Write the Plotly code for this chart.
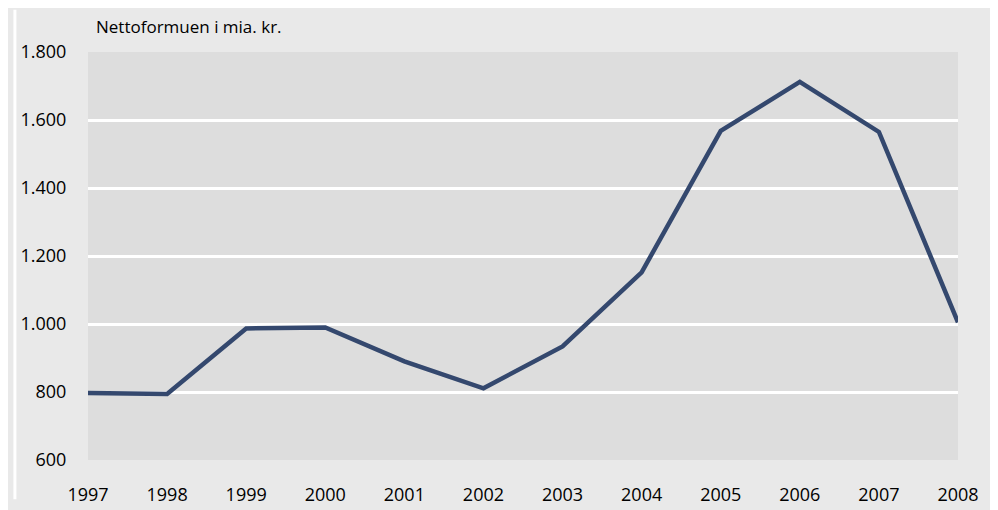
import plotly.graph_objects as go

years = [1997, 1998, 1999, 2000, 2001, 2002, 2003, 2004, 2005, 2006, 2007, 2008]
nettoformue = [797, 794, 987, 990, 890, 811, 934, 1152, 1568, 1712, 1565, 1005]
y_title = "Nettoformuen i mia. kr."

W, H = 998, 510
L, R, T, B = 75, 48, 44, 41
pw, ph = W - L - R, H - T - B

def px_x(p):
    return (p - L) / pw

def px_y(q):
    return (H - B - q) / ph

fig = go.Figure()
fig.add_trace(go.Scatter(
    x=years, y=nettoformue, mode="lines",
    line=dict(color="#34486e", width=4.5),
    hoverinfo="x+y",
))

fig.update_layout(
    width=W, height=H,
    margin=dict(l=L, r=R, t=T, b=B),
    paper_bgcolor="#e9e9e9",
    plot_bgcolor="#dddddd",
    separators=",.",
    showlegend=False,
    font=dict(family="Open Sans", size=18, color="#000000"),
    xaxis=dict(
        range=[1997, 2008], tickmode="array", tickvals=years,
        ticktext=[str(y) for y in years],
        showgrid=False, zeroline=False, showline=False,
        ticks="outside", ticklen=18, tickcolor="rgba(0,0,0,0)",
        tickfont=dict(size=18),
    ),
    yaxis=dict(
        range=[600, 1800], dtick=200, tick0=600, tickformat=",d",
        showgrid=True, gridcolor="#ffffff", gridwidth=2.5,
        zeroline=False, showline=False,
        ticks="outside", ticklen=17, tickcolor="rgba(0,0,0,0)",
        tickfont=dict(size=18),
    ),
    annotations=[dict(
        text=y_title, xref="paper", yref="paper",
        x=px_x(81), y=px_y(17), xanchor="left", yanchor="middle",
        showarrow=False, font=dict(size=17),
    )],
    shapes=[
        dict(type="rect", xref="paper", yref="paper",
             x0=px_x(0), x1=px_x(3), y0=px_y(H), y1=px_y(0),
             fillcolor="#ffffff", line=dict(width=0)),
        dict(type="rect", xref="paper", yref="paper",
             x0=px_x(985), x1=px_x(W), y0=px_y(H), y1=px_y(0),
             fillcolor="#ffffff", line=dict(width=0)),
    ],
)

fig.write_html("out.html")
